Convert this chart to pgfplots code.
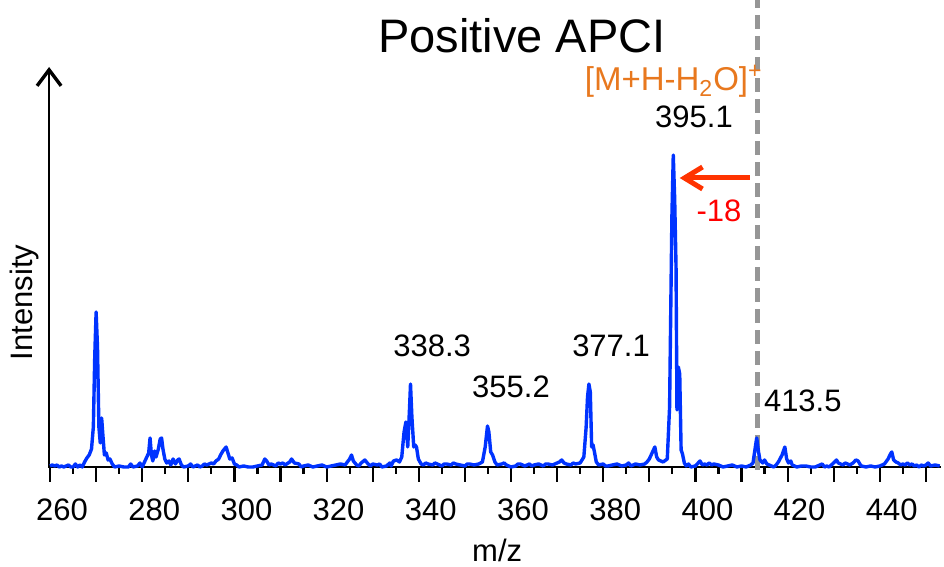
\documentclass[border=0pt]{standalone}
\usepackage{pgfplots}
\pgfplotsset{compat=1.18}
\usepackage{pgfplotstable}
\usepackage{fontspec}
\setmainfont{Liberation Sans}
\usetikzlibrary{arrows.meta}

\definecolor{specblue}{RGB}{0,51,255}
\definecolor{ionorange}{RGB}{232,120,30}
\definecolor{arrowred}{RGB}{255,51,0}
\definecolor{dashgray}{RGB}{150,150,150}

% m/z vs intensity (arbitrary units)
\pgfplotstableread{
mz intensity
260 1
260.5 2
261 1
261.5 2
262 0
262.5 1
263 0
263.5 1
264 2
264.5 0
265 0
265.5 3
266 0
266.5 2
267 0
267.5 5
268 9
268.5 12
269 18
269.4 40
269.7 110
270.0 155
270.3 120
270.6 40
270.9 24
271.2 49
271.5 30
271.8 12
272.2 14
272.6 7
273 8
273.5 3
274 0
275 1
276 0
277 0
277.5 3
278 0
279 1
279.5 4
280 0
280.5 5
281 10
281.4 14
281.7 29
282 12
282.3 6
282.7 16
283 10
283.5 18
283.9 28
284.2 29
284.5 18
284.9 8
285.3 4
285.8 6
286.2 2
286.7 8
287.2 3
287.7 7
288 8
288.5 2
289 0
290 1
290.5 3
291 0
292 2
292.5 0
293 1
293.5 3
294 2
295 4
295.5 3
296 6
296.6 8
297 12
297.5 16
298.2 20
298.6 14
299 8
299.5 9
300 3
300.5 2
301 0
302 1
303 0
304 0
305 1
306 2
306.6 8
307 6
307.5 2
308 3
309 1
309.5 4
310 3
310.5 4
311 2
312 5
312.4 8
313 4
314 3
314.5 0
315 1
316 2
317 0
318 1
319 2
320 0
321 1
322 2
323 3
324 2
325 8
325.4 12
325.8 6
326.5 2
327 1
327.5 4
328.3 7
329 3
329.5 1
330 3
331 2
331.5 3
332 0
333 1
333.7 4
334 1
334.5 6
335.2 7
335.8 5
336.3 10
336.8 35
337.2 45
337.6 20
338.0 60
338.2 83
338.5 50
338.9 20
339.2 22
339.5 20
339.9 8
340.5 3
341 2
341.5 4
342 3
343 2
343.5 4
344 3
345 1
345.5 3
346 3
347 2
347.5 4
348 3
349 2
350 1
350.5 3
351 3
352 2
353 3
353.8 5
354.4 20
354.9 41
355.2 35
355.6 15
356.0 12
356.5 5
357 2
358 3
358.5 4
359 2
360 0
361 1
361.5 3
362 3
363 1
364 3
364.5 1
365 2
366 3
367 1
367.5 3
368 3
369 2
370 4
370.5 5
371 7
371.5 4
372 3
373 2
373.5 4
374 3
375 4
375.8 10
376.3 40
376.6 70
376.9 83
377.2 75
377.5 20
377.8 22
378.1 15
378.5 5
379 2
380 3
380.5 1
381 1
382 2
383 3
384 1
385 2
385.5 4
386 1
387 3
388 2
389 3
389.5 5
390 8
390.6 14
391.2 20
391.6 10
392 7
393 5
393.9 8
394.4 60
394.9 250
395.2 312
395.5 269
395.8 200
396.0 57
396.3 100
396.6 93
396.9 17
397.2 13
397.6 4
398 1
398.5 3
399 0
400 1
401 6
401.5 2
402 3
402.5 2
403 4
403.5 2
404 3
405 2
406 0
407 1
408 2
409 0
410 1
411 0
412 2
412.5 4
413.0 20
413.3 29
413.7 15
414 7
414.6 4
415 7
415.5 3
416 2
417 0
417.5 2
418 5
418.8 12
419.4 20
419.8 8
420.2 4
420.7 6
421 2
422 0
423 1
424 1
425 0
426 0
427 2
427.5 3
428 0
428.5 1
429 0
429.5 2
430.2 5
430.6 7
431 4
432 2
432.5 4
433 3
433.5 2
434.2 4
434.8 7
435.3 6
435.8 2
436 1
437 0
438 1
439 0
440 1
441 3
441.8 8
442.3 13
442.6 15
443 7
443.5 5
444 4
444.5 2
445 3
445.5 2
446 4
446.5 2
447 3
447.5 1
448 2
448.5 0
449 2
449.5 1
450 2
450.5 4
451 1
452 2
453 1
}\spectrum

\begin{document}
\begin{tikzpicture}
\begin{axis}[
    x=2.305pt, y=0.5pt,
    xmin=259.8, xmax=453.2,
    ymin=0, ymax=400,
    axis x line=bottom,
    axis y line=none,
    x axis line style={line width=1.2pt, -},
    xtick={260,270,...,450},
    xticklabels={260,,280,,300,,320,,340,,360,,380,,400,,420,,440,},
    minor x tick num=1,
    ytick=\empty,
    tick align=outside,
    major tick length=7.5pt,
    minor tick length=3.5pt,
    every tick/.style={black, line width=1.1pt},
    /pgf/number format/assume math mode=true,
    tick label style={font=\fontsize{15.5}{18}\selectfont},
    xticklabel style={xshift=6pt, yshift=-5pt},
    clip=false,
    font=\fontsize{15.5}{18}\selectfont,
]
% y axis with open arrow head
\draw[black, line width=1.3pt, -{Straight Barb[length=8pt,width=12pt,line width=1.7pt]}]
    (axis cs:259.8,-1) -- (axis cs:259.8,400);

\draw[dashgray, line width=2.6pt, dash pattern=on 7pt off 3.5pt]
    (axis cs:413.4,-3) -- (axis cs:413.4,467);

\addplot[specblue, line width=1.7pt, line join=round, no marks] table[x=mz, y=intensity] {\spectrum};

\draw[arrowred, line width=2.5pt, -{Straight Barb[length=9pt,width=11pt]}]
    (axis cs:411.8,289) -- (axis cs:396.6,289);

\node[anchor=base, font=\fontsize{23.5}{28}\selectfont] at (axis cs:362.4,414) {Positive APCI};
\node[anchor=base, text=ionorange, font=\fontsize{16.5}{20}\selectfont] at (axis cs:395.3,376) {[M+H-H\textsubscript{2}O]\textsuperscript{+}};
\node[anchor=base] at (axis cs:399.7,339) {395.1};
\node[anchor=base] at (axis cs:342.9,110) {338.3};
\node[anchor=base] at (axis cs:360.0,69) {355.2};
\node[anchor=base] at (axis cs:381.7,110) {377.1};
\node[anchor=base] at (axis cs:423.3,55) {413.5};
\node[anchor=base, text=red] at (axis cs:405.1,245) {-18};
\node[anchor=base] at (axis cs:357,-95) {m/z};
\node[anchor=base, rotate=90] at (axis cs:256.3,164.5) {Intensity};

\coordinate (bl) at (axis cs:249.15,-100);
\coordinate (tr) at (axis cs:453.93,467);
\end{axis}
\pgfresetboundingbox
\path[use as bounding box] (bl) rectangle (tr);
\end{tikzpicture}
\end{document}
